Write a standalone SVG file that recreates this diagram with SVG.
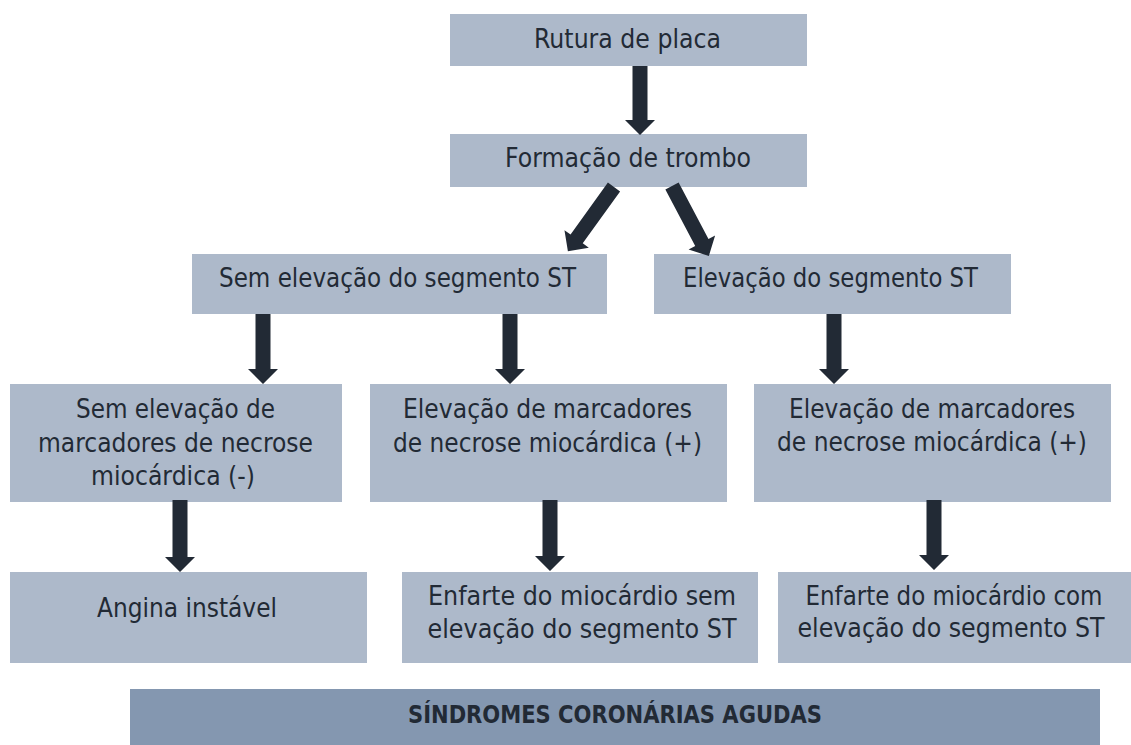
<svg xmlns="http://www.w3.org/2000/svg" width="1131" height="745" viewBox="0 0 1131 745">
<style>
.box{fill:#adb9ca}
.title{fill:#8497b0}
.arr{fill:#222a35}
text{font-family:"DejaVu Sans","Liberation Sans",sans-serif;font-size:26px;fill:#222a35;text-anchor:middle}
.b{font-weight:bold;font-size:25px}
</style>
<rect width="1131" height="745" fill="#ffffff"/>
<g id="n1"><rect class="box" x="450" y="14" width="357" height="52"/><text x="627.5" y="48" textLength="187" lengthAdjust="spacingAndGlyphs">Rutura de placa</text></g>
<g id="n2"><rect class="box" x="450" y="134" width="357" height="53"/><text x="628" y="167" textLength="246" lengthAdjust="spacingAndGlyphs">Formação de trombo</text></g>
<g id="n3"><rect class="box" x="192" y="254" width="415" height="60"/><text x="397.5" y="287" textLength="357" lengthAdjust="spacingAndGlyphs">Sem elevação do segmento ST</text></g>
<g id="n4"><rect class="box" x="654" y="254" width="357" height="60"/><text x="830.5" y="287" textLength="295" lengthAdjust="spacingAndGlyphs">Elevação do segmento ST</text></g>
<g id="n5"><rect class="box" x="10" y="384" width="332" height="118"/>
<text x="175.5" y="418" textLength="199" lengthAdjust="spacingAndGlyphs">Sem elevação de</text>
<text x="175.5" y="452" textLength="275" lengthAdjust="spacingAndGlyphs">marcadores de necrose</text>
<text x="173" y="485" textLength="164" lengthAdjust="spacingAndGlyphs">miocárdica (-)</text></g>
<g id="n6"><rect class="box" x="370" y="384" width="357" height="118"/>
<text x="547.5" y="418" textLength="289" lengthAdjust="spacingAndGlyphs">Elevação de marcadores</text>
<text x="547.5" y="452" textLength="309" lengthAdjust="spacingAndGlyphs">de necrose miocárdica (+)</text></g>
<g id="n7"><rect class="box" x="754" y="384" width="357" height="118"/>
<text x="932" y="418" textLength="286" lengthAdjust="spacingAndGlyphs">Elevação de marcadores</text>
<text x="932" y="451" textLength="310" lengthAdjust="spacingAndGlyphs">de necrose miocárdica (+)</text></g>
<g id="n8"><rect class="box" x="10" y="572" width="357" height="91"/><text x="187" y="617" textLength="180" lengthAdjust="spacingAndGlyphs">Angina instável</text></g>
<g id="n9"><rect class="box" x="402" y="572" width="356" height="91"/>
<text x="582" y="605" textLength="308" lengthAdjust="spacingAndGlyphs">Enfarte do miocárdio sem</text>
<text x="582" y="638" textLength="309" lengthAdjust="spacingAndGlyphs">elevação do segmento ST</text></g>
<g id="n10"><rect class="box" x="778" y="572" width="353" height="91"/>
<text x="954" y="605" textLength="297" lengthAdjust="spacingAndGlyphs">Enfarte do miocárdio com</text>
<text x="951" y="637" textLength="307" lengthAdjust="spacingAndGlyphs">elevação do segmento ST</text></g>
<g id="n11"><rect class="title" x="130" y="689" width="970" height="56"/><text class="b" x="615" y="723" textLength="414" lengthAdjust="spacingAndGlyphs">SÍNDROMES CORONÁRIAS AGUDAS</text></g>
<g id="connectors" class="arr">
<polygon points="632.5,66 647.5,66 647.5,120 655,120 640,135 625,120 632.5,120"/>
<polygon transform="translate(614,187) rotate(35.7)" points="-7.5,0 7.5,0 7.5,64 15,64 0,79 -15,64 -7.5,64"/>
<polygon transform="translate(672,186) rotate(-27.8)" points="-7.5,0 7.5,0 7.5,64 15,64 0,79 -15,64 -7.5,64"/>
<polygon points="255.5,314 270.5,314 270.5,369 278,369 263,384 248,369 255.5,369"/>
<polygon points="502.5,314 517.5,314 517.5,369 525,369 510,384 495,369 502.5,369"/>
<polygon points="826.5,314 841.5,314 841.5,369 849,369 834,384 819,369 826.5,369"/>
<polygon points="172.5,500 187.5,500 187.5,557 195,557 180,572 165,557 172.5,557"/>
<polygon points="542.5,500 557.5,500 557.5,556 565,556 550,571 535,556 542.5,556"/>
<polygon points="926.5,500 941.5,500 941.5,555 949,555 934,570 919,555 926.5,555"/>
</g>
</svg>
